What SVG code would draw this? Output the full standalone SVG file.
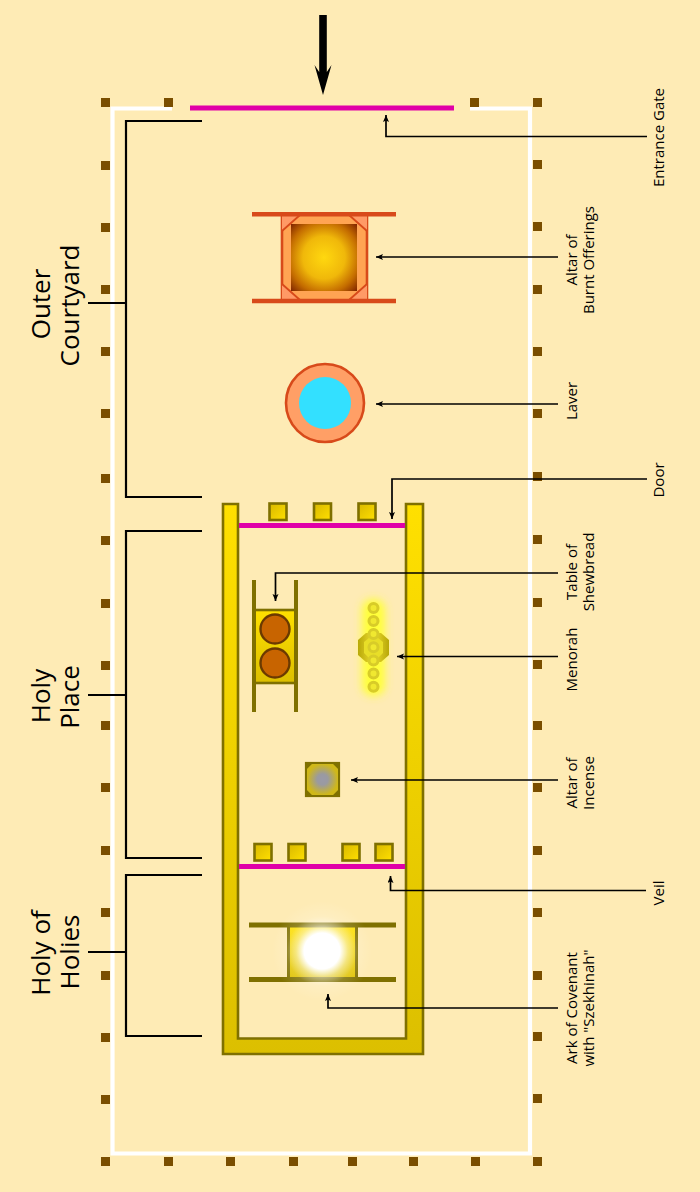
<svg xmlns="http://www.w3.org/2000/svg" width="700" height="1192" viewBox="0 0 700 1192">
<defs>
<style>
.post{fill:#7a4e00}
.lab{font-family:"Open Sans","Liberation Sans",sans-serif;font-size:15px;fill:#000;text-anchor:middle}
.big{font-family:"Open Sans","Liberation Sans",sans-serif;font-size:26px;fill:#000;text-anchor:middle}
.conn{fill:none;stroke:#000;stroke-width:1.7}
.brk{fill:none;stroke:#000;stroke-width:2.2}
.curtain{stroke:#e000a8;stroke-width:5;fill:none}
.pillar{fill:url(#gold2);stroke:#7f7000;stroke-width:2.6}
.wall{stroke:#d84a1a}
</style>
<linearGradient id="gold" x1="0" y1="0" x2="0" y2="1"><stop offset="0" stop-color="#ffe000"/><stop offset="1" stop-color="#dcbf00"/></linearGradient>
<linearGradient id="gold2" x1="0" y1="0" x2="1" y2="1"><stop offset="0" stop-color="#d9b800"/><stop offset="1" stop-color="#ffe000"/></linearGradient>
<radialGradient id="fire" r="0.71"><stop offset="0" stop-color="#ffd80f"/><stop offset="0.45" stop-color="#f0b80a"/><stop offset="0.75" stop-color="#c46c00"/><stop offset="1" stop-color="#7e2200"/></radialGradient>
<radialGradient id="glow"><stop offset="0" stop-color="#fff"/><stop offset="0.36" stop-color="#fff"/><stop offset="0.52" stop-color="#fff" stop-opacity="0.5"/><stop offset="0.7" stop-color="#fff" stop-opacity="0.15"/><stop offset="1" stop-color="#fff" stop-opacity="0"/></radialGradient>
<radialGradient id="smoke"><stop offset="0" stop-color="#9a9aa8"/><stop offset="0.35" stop-color="#9a9aa0"/><stop offset="1" stop-color="#d0b818"/></radialGradient>
<linearGradient id="hex" x1="0" y1="0" x2="1" y2="0"><stop offset="0" stop-color="#b8a808"/><stop offset="0.5" stop-color="#ecdc30"/><stop offset="1" stop-color="#b8a808"/></linearGradient>
<filter id="blur" x="-60%" y="-20%" width="220%" height="140%"><feGaussianBlur stdDeviation="4.500"/></filter>
<marker id="tip" markerUnits="userSpaceOnUse" markerWidth="10" markerHeight="8" refX="7" refY="3" orient="auto"><path d="M0 0L7 3L0 6L1.500 3z" fill="#000"/></marker>
</defs>
<rect width="700" height="1192" fill="#feebb5"/>

<g id="court-wall" fill="none" stroke="#fff" stroke-width="4.200">
<path d="M172 108.500H112.500V1153.500H530V108.500H470"/>
</g>

<g id="posts" class="post">
<rect x="101" y="98" width="9" height="9"/><rect x="164" y="98" width="9" height="9"/><rect x="470" y="98" width="9" height="9"/><rect x="533" y="98" width="9" height="9"/>
<rect x="101" y="161" width="9" height="9"/><rect x="101" y="223" width="9" height="9"/><rect x="101" y="285" width="9" height="9"/><rect x="101" y="347" width="9" height="9"/><rect x="101" y="409" width="9" height="9"/><rect x="101" y="474" width="9" height="9"/><rect x="101" y="536" width="9" height="9"/><rect x="101" y="599" width="9" height="9"/><rect x="101" y="661" width="9" height="9"/><rect x="101" y="721" width="9" height="9"/><rect x="101" y="783" width="9" height="9"/><rect x="101" y="846" width="9" height="9"/><rect x="101" y="908" width="9" height="9"/><rect x="101" y="971" width="9" height="9"/><rect x="101" y="1033" width="9" height="9"/><rect x="101" y="1095" width="9" height="9"/>
<rect x="533" y="160" width="9" height="9"/><rect x="533" y="222" width="9" height="9"/><rect x="533" y="285" width="9" height="9"/><rect x="533" y="347" width="9" height="9"/><rect x="533" y="409" width="9" height="9"/><rect x="533" y="472" width="9" height="9"/><rect x="533" y="535" width="9" height="9"/><rect x="533" y="598" width="9" height="9"/><rect x="533" y="660" width="9" height="9"/><rect x="533" y="721" width="9" height="9"/><rect x="533" y="783" width="9" height="9"/><rect x="533" y="846" width="9" height="9"/><rect x="533" y="908" width="9" height="9"/><rect x="533" y="971" width="9" height="9"/><rect x="533" y="1032" width="9" height="9"/><rect x="533" y="1094" width="9" height="9"/>
<rect x="101" y="1157" width="9" height="9"/><rect x="164" y="1157" width="9" height="9"/><rect x="226" y="1157" width="9" height="9"/><rect x="289" y="1157" width="9" height="9"/><rect x="348" y="1157" width="9" height="9"/><rect x="409" y="1157" width="9" height="9"/><rect x="471" y="1157" width="9" height="9"/><rect x="533" y="1157" width="9" height="9"/>
</g>

<g id="entrance-gate"><path class="curtain" d="M190 108H454"/></g>
<g id="entrance-arrow"><path d="M319.200 15H326.800V72L331.500 65L323 95L314.500 65L319.200 72z" fill="#000"/></g>

<g id="altar-burnt">
<rect x="282" y="214" width="85" height="87" fill="#ffa453" class="wall" stroke-width="2.600"/>
<path d="M282 214H299L282 231zM367 214H350L367 231zM282 301H299L282 284zM367 301H350L367 284z" fill="#ff9a66"/>
<path class="wall" stroke-width="1.800" fill="none" d="M282 231L300 215M349 215L367 231M282 284L300 300M349 300L367 284"/>
<rect x="291" y="224" width="66" height="67" fill="url(#fire)"/>
<path class="wall" stroke-width="4.500" d="M252 214.300H396M252 301H396"/>
</g>

<g id="laver">
<circle cx="325" cy="403" r="39" fill="#ff9f66" stroke="#d84a1a" stroke-width="2.600"/>
<circle cx="325" cy="403" r="26" fill="#33e0ff"/>
</g>

<g id="temple">
<path d="M223 504H238V1038.500H406V504H423V1054H223z" fill="url(#gold)" stroke="#7f7000" stroke-width="2.600"/>
</g>

<g id="door">
<rect class="pillar" x="269.500" y="503.500" width="17" height="16.500"/>
<rect class="pillar" x="314" y="503.500" width="17" height="16.500"/>
<rect class="pillar" x="358.500" y="503.500" width="17" height="16.500"/>
<path class="curtain" d="M239 525.500H405"/>
</g>

<g id="table-shewbread">
<rect x="254" y="610" width="42" height="73" fill="url(#gold)" stroke="#7f7000" stroke-width="2.600"/>
<path d="M254 580V712M296 580V712" stroke="#7f7000" stroke-width="4" fill="none"/>
<circle cx="275" cy="629" r="14.500" fill="#c86400" stroke="#6b3a00" stroke-width="2.400"/>
<circle cx="275" cy="663" r="14.500" fill="#c86400" stroke="#6b3a00" stroke-width="2.400"/>
</g>

<g id="menorah">
<rect x="362" y="599" width="23" height="97" rx="10" fill="#ffff38" filter="url(#blur)"/>
<path d="M366 633H381L389 640V655L381 662H366L358 655V640z" fill="url(#hex)"/>
<path d="M369 638H378L383 642V653L378 658H369L364 653V642z" fill="#e8de28"/>
<g fill="#f0e830" stroke="#d8cc28" stroke-width="3">
<circle cx="373.500" cy="608" r="4.500"/><circle cx="373.500" cy="621" r="4.500"/><circle cx="373.500" cy="634" r="4.500"/><circle cx="373.500" cy="647.300" r="4.500"/><circle cx="373.500" cy="660.500" r="4.500"/><circle cx="373.500" cy="673.500" r="4.500"/><circle cx="373.500" cy="686.700" r="4.500"/>
</g>
</g>

<g id="altar-incense">
<rect x="306" y="763" width="33" height="33" fill="#e0cf30" stroke="#7f7000" stroke-width="2.200"/>
<path d="M306 769L312 763M333 763L339 769M306 790L312 796M333 796L339 790" stroke="#7f7000" stroke-width="2" fill="none"/>
<path d="M306 763H312L306 769zM339 763H333L339 769zM306 796H312L306 790zM339 796H333L339 790z" fill="#7f7000"/>
<path d="M312 764H333L338 769V790L333 795H312L307 790V769z" fill="url(#smoke)"/>
</g>

<g id="veil">
<rect class="pillar" x="254.500" y="844" width="17" height="16.500"/>
<rect class="pillar" x="288.500" y="844" width="17" height="16.500"/>
<rect class="pillar" x="342.500" y="844" width="17" height="16.500"/>
<rect class="pillar" x="375.500" y="844" width="17" height="16.500"/>
<path class="curtain" d="M239 866.500H405"/>
</g>

<g id="ark">
<rect x="288.500" y="925" width="68" height="55" fill="url(#gold)" stroke="#7f7000" stroke-width="3"/>
<path d="M249 925H396M249 979.500H396" stroke="#7f7000" stroke-width="5" fill="none"/>
<circle cx="322" cy="951" r="50" fill="url(#glow)"/>
</g>

<g id="connectors">
<path class="conn" marker-end="url(#tip)" d="M647 136.500H386V115"/>
<path class="conn" marker-end="url(#tip)" d="M558 257H376"/>
<path class="conn" marker-end="url(#tip)" d="M558 404H376"/>
<path class="conn" marker-end="url(#tip)" d="M647 479H392V519"/>
<path class="conn" marker-end="url(#tip)" d="M558 573H275.500V601"/>
<path class="conn" marker-end="url(#tip)" d="M558 656.500H397"/>
<path class="conn" marker-end="url(#tip)" d="M558 780H351"/>
<path class="conn" marker-end="url(#tip)" d="M646 890.500H390.500V876"/>
<path class="conn" marker-end="url(#tip)" d="M558 1008H328V994"/>
<path class="brk" d="M202 121H126V497H202M88 303H126"/>
<path class="brk" d="M202 531H126V858H202M88 695H126"/>
<path class="brk" d="M202 875H126V1036H202M88 952H126"/>
</g>

<g id="labels">
<text class="lab" transform="translate(664 137.500) rotate(-90)">Entrance Gate</text>
<text class="lab" transform="translate(577 260) rotate(-90)">Altar of</text>
<text class="lab" transform="translate(594 260) rotate(-90)">Burnt Offerings</text>
<text class="lab" transform="translate(577 401) rotate(-90)">Laver</text>
<text class="lab" transform="translate(664 480) rotate(-90)">Door</text>
<text class="lab" transform="translate(577 572) rotate(-90)">Table of</text>
<text class="lab" transform="translate(594 572) rotate(-90)">Shewbread</text>
<text class="lab" transform="translate(577 659.500) rotate(-90)">Menorah</text>
<text class="lab" transform="translate(577 783) rotate(-90)">Altar of</text>
<text class="lab" transform="translate(594 783) rotate(-90)">Incense</text>
<text class="lab" transform="translate(664 893) rotate(-90)">Veil</text>
<text class="lab" transform="translate(577 1008) rotate(-90)">Ark of Covenant</text>
<text class="lab" transform="translate(594 1008) rotate(-90)">with "Szekhinah"</text>
<text class="big" transform="translate(50 304) rotate(-90)">Outer</text>
<text class="big" transform="translate(79 305.500) rotate(-90)">Courtyard</text>
<text class="big" transform="translate(50 696) rotate(-90)">Holy</text>
<text class="big" transform="translate(79 697) rotate(-90)">Place</text>
<text class="big" transform="translate(50 953) rotate(-90)">Holy of</text>
<text class="big" transform="translate(79 952) rotate(-90)">Holies</text>
</g>
</svg>
